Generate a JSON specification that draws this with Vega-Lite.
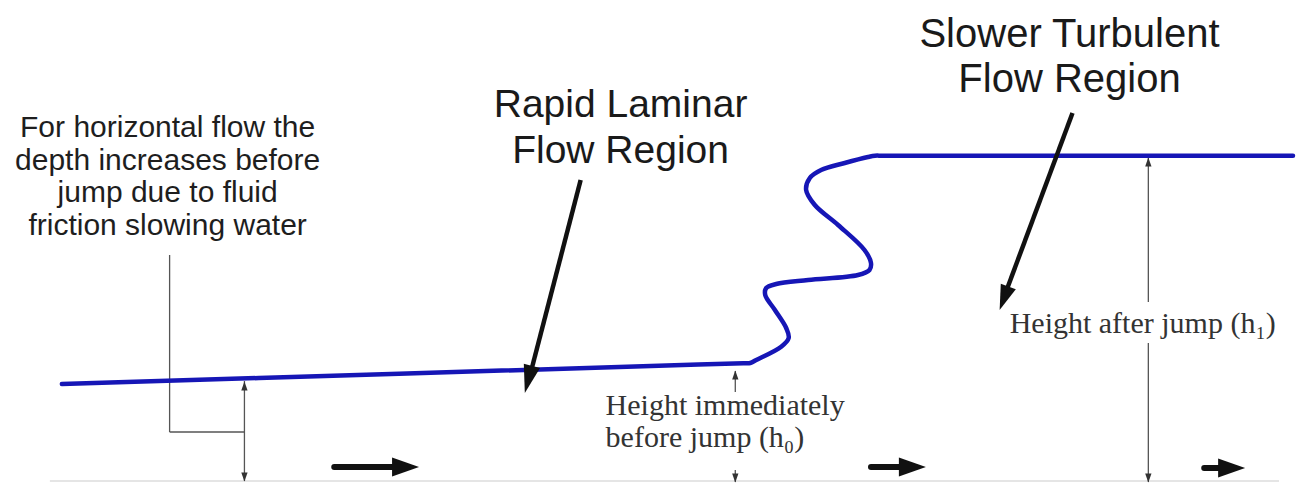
{
  "$schema": "https://vega.github.io/schema/vega-lite/v6.json",
  "width": 1296,
  "height": 484,
  "autosize": {"type": "fit", "contains": "padding"},
  "padding": 0,
  "background": "white",
  "config": {"view": {"stroke": null}},
  "datasets": {
    "water": [
      {"i": 1, "x": 62, "y": 384},
      {"i": 2, "x": 400, "y": 373.7},
      {"i": 3, "x": 700, "y": 364.6},
      {"i": 4, "x": 745, "y": 363.2},
      {"i": 5, "x": 752, "y": 363},
      {"i": 6, "x": 758, "y": 360},
      {"i": 7, "x": 783, "y": 346.7},
      {"i": 8, "x": 790.5, "y": 338},
      {"i": 9, "x": 788, "y": 328},
      {"i": 10, "x": 776.7, "y": 310},
      {"i": 11, "x": 767, "y": 295},
      {"i": 12, "x": 768, "y": 288},
      {"i": 13, "x": 778, "y": 284},
      {"i": 14, "x": 810, "y": 280},
      {"i": 15, "x": 860, "y": 275},
      {"i": 16, "x": 871.5, "y": 270},
      {"i": 17, "x": 873, "y": 263},
      {"i": 18, "x": 866.5, "y": 250},
      {"i": 19, "x": 840, "y": 225},
      {"i": 20, "x": 816.7, "y": 205},
      {"i": 21, "x": 808, "y": 190},
      {"i": 22, "x": 811.7, "y": 178},
      {"i": 23, "x": 823, "y": 170},
      {"i": 24, "x": 846.7, "y": 163},
      {"i": 25, "x": 870, "y": 157},
      {"i": 26, "x": 877, "y": 155.7},
      {"i": 27, "x": 885, "y": 155.7},
      {"i": 28, "x": 1100, "y": 155.7},
      {"i": 29, "x": 1296, "y": 155.7}
    ],
    "floor": [{"x": 50, "y": 481, "x2": 1282, "y2": 481}],
    "thin": [
      {"x": 245, "y": 381, "x2": 245, "y2": 481},
      {"x": 170, "y": 255, "x2": 170, "y2": 432},
      {"x": 170, "y": 432, "x2": 245, "y2": 432},
      {"x": 737, "y": 371, "x2": 737, "y2": 392},
      {"x": 737, "y": 470, "x2": 737, "y2": 482},
      {"x": 1151, "y": 158, "x2": 1151, "y2": 302},
      {"x": 1151, "y": 343, "x2": 1151, "y2": 482}
    ],
    "upHeads": [{"x": 245, "y": 386}, {"x": 737, "y": 375}, {"x": 1151, "y": 162}],
    "downHeads": [{"x": 245, "y": 477}, {"x": 737, "y": 478}, {"x": 1151, "y": 478}],
    "diagShafts": [
      {"x": 582, "y": 180, "x2": 530, "y2": 380},
      {"x": 1075, "y": 113, "x2": 1006, "y2": 298}
    ],
    "flowShafts": [
      {"x": 335, "y": 467, "x2": 400, "y2": 467},
      {"x": 873, "y": 467, "x2": 910, "y2": 467},
      {"x": 1207, "y": 468, "x2": 1230, "y2": 468}
    ],
    "lamHead": [{"x": 529.6, "y": 379.5}],
    "turbHead": [{"x": 1006.3, "y": 298.3}],
    "flowHeads": [{"x": 406.5, "y": 467}, {"x": 914.5, "y": 467}, {"x": 1234.5, "y": 468}],
    "sansSmall": [
      {"x": 168, "y": 137, "text": "For horizontal flow the\ndepth increases before\njump due to fluid\nfriction slowing water"}
    ],
    "rapid": [{"x": 622, "y": 117, "text": "Rapid Laminar\nFlow Region"}],
    "slower": [{"x": 1072, "y": 47, "text": "Slower Turbulent\nFlow Region"}],
    "serif": [
      {"x": 607, "y": 415, "text": "Height immediately\nbefore jump (h₀)"},
      {"x": 1012, "y": 333, "text": "Height after jump (h₁)"}
    ]
  },
  "encoding": {
    "x": {"field": "x", "type": "quantitative", "scale": {"domain": [0, 1296], "nice": false, "zero": false}, "axis": null},
    "y": {"field": "y", "type": "quantitative", "scale": {"domain": [0, 484], "nice": false, "zero": false, "reverse": true}, "axis": null}
  },
  "layer": [
    {
      "data": {"name": "floor"},
      "mark": {"type": "rule", "color": "#dcdcdc", "strokeWidth": 1.5},
      "encoding": {"x2": {"field": "x2"}, "y2": {"field": "y2"}}
    },
    {
      "data": {"name": "thin"},
      "mark": {"type": "rule", "color": "#555555", "strokeWidth": 1.3},
      "encoding": {"x2": {"field": "x2"}, "y2": {"field": "y2"}}
    },
    {
      "data": {"name": "upHeads"},
      "mark": {"type": "point", "shape": "M0,-1L-0.7,1L0.7,1Z", "size": 81, "filled": true, "color": "#333333", "opacity": 1, "strokeWidth": 0}
    },
    {
      "data": {"name": "downHeads"},
      "mark": {"type": "point", "shape": "M0,1L-0.7,-1L0.7,-1Z", "size": 81, "filled": true, "color": "#333333", "opacity": 1, "strokeWidth": 0}
    },
    {
      "data": {"name": "water"},
      "mark": {"type": "line", "color": "#1616b6", "strokeWidth": 4.5, "interpolate": "catmull-rom", "strokeCap": "round", "strokeJoin": "round"},
      "encoding": {"order": {"field": "i", "type": "quantitative"}}
    },
    {
      "data": {"name": "diagShafts"},
      "mark": {"type": "rule", "color": "#111111", "strokeWidth": 4.5},
      "encoding": {"x2": {"field": "x2"}, "y2": {"field": "y2"}}
    },
    {
      "data": {"name": "flowShafts"},
      "mark": {"type": "rule", "color": "#111111", "strokeWidth": 6, "strokeCap": "round"},
      "encoding": {"x2": {"field": "x2"}, "y2": {"field": "y2"}}
    },
    {
      "data": {"name": "lamHead"},
      "mark": {"type": "point", "shape": "M0,1L-0.6,-1L0.6,-1Z", "size": 784, "angle": 14.7, "filled": true, "color": "#111111", "opacity": 1, "strokeWidth": 0}
    },
    {
      "data": {"name": "turbHead"},
      "mark": {"type": "point", "shape": "M0,1L-0.64,-1L0.64,-1Z", "size": 625, "angle": 20.3, "filled": true, "color": "#111111", "opacity": 1, "strokeWidth": 0}
    },
    {
      "data": {"name": "flowHeads"},
      "mark": {"type": "point", "shape": "M1,0L-1,-0.7L-1,0.7Z", "size": 729, "filled": true, "color": "#111111", "opacity": 1, "strokeWidth": 0}
    },
    {
      "data": {"name": "sansSmall"},
      "mark": {"type": "text", "font": "Liberation Sans", "fontSize": 30, "align": "center", "baseline": "alphabetic", "lineBreak": "\n", "lineHeight": 32.5, "color": "#1e1e1e"},
      "encoding": {"text": {"field": "text"}}
    },
    {
      "data": {"name": "rapid"},
      "mark": {"type": "text", "font": "Liberation Sans", "fontSize": 39, "align": "center", "baseline": "alphabetic", "lineBreak": "\n", "lineHeight": 46, "color": "#1a1a1a"},
      "encoding": {"text": {"field": "text"}}
    },
    {
      "data": {"name": "slower"},
      "mark": {"type": "text", "font": "Liberation Sans", "fontSize": 40, "align": "center", "baseline": "alphabetic", "lineBreak": "\n", "lineHeight": 45, "color": "#1a1a1a"},
      "encoding": {"text": {"field": "text"}}
    },
    {
      "data": {"name": "serif"},
      "mark": {"type": "text", "font": "Liberation Serif", "fontSize": 30, "align": "left", "baseline": "alphabetic", "lineBreak": "\n", "lineHeight": 32, "color": "#333333"},
      "encoding": {"text": {"field": "text"}}
    }
  ]
}
